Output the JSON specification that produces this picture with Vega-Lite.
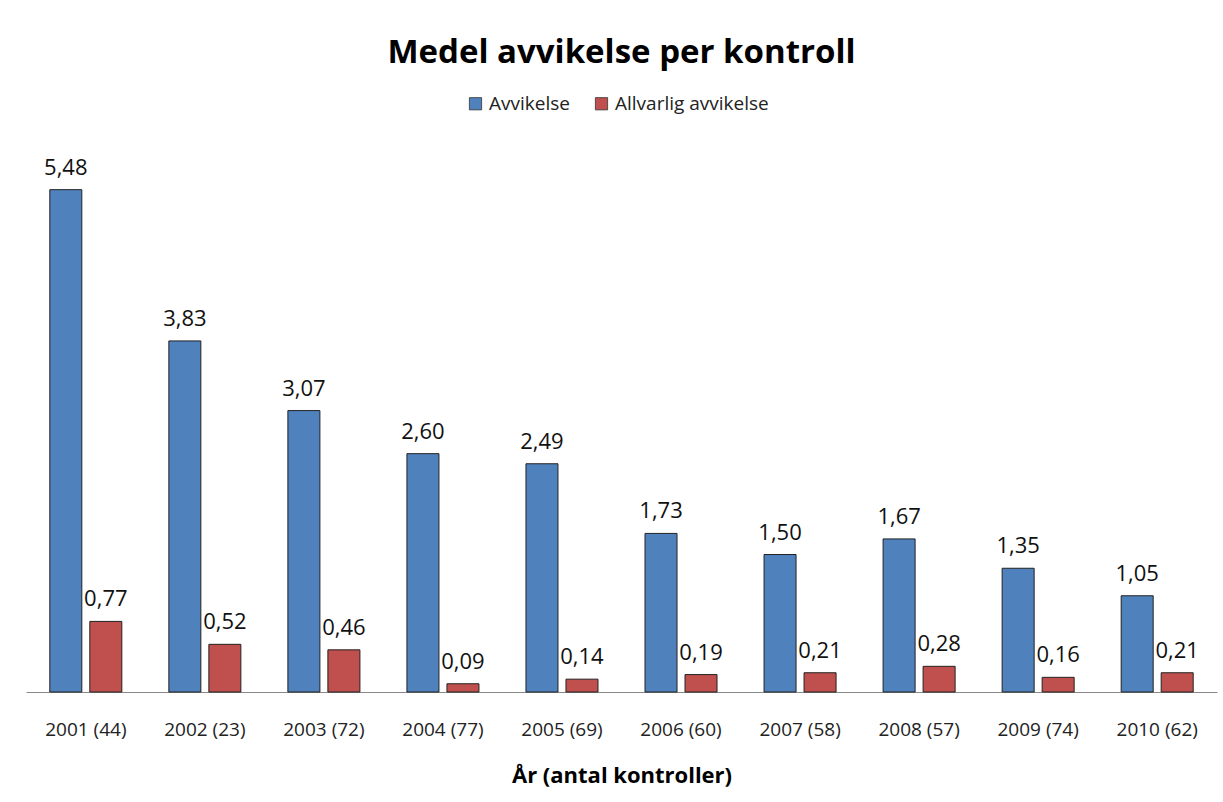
{
  "$schema": "https://vega.github.io/schema/vega-lite/v6.json",
  "width": 1191,
  "height": 550,
  "autosize": "none",
  "padding": {"left": 26, "top": 142, "right": 6, "bottom": 110},
  "background": "white",
  "config": {
    "locale": {"number": {"decimal": ",", "thousands": " ", "grouping": [3], "currency": ["", " kr"]}},
    "view": {"stroke": null},
    "font": "Open Sans"
  },
  "title": {"text": "Medel avvikelse per kontroll", "fontSize": 33, "fontWeight": "bold", "color": "#000", "anchor": "middle", "offset": 24, "font": "Open Sans"},
  "data": {"values": [
    {"year": "2001 (44)", "serie": "Avvikelse", "value": 5.48},
    {"year": "2001 (44)", "serie": "Allvarlig avvikelse", "value": 0.77},
    {"year": "2002 (23)", "serie": "Avvikelse", "value": 3.83},
    {"year": "2002 (23)", "serie": "Allvarlig avvikelse", "value": 0.52},
    {"year": "2003 (72)", "serie": "Avvikelse", "value": 3.07},
    {"year": "2003 (72)", "serie": "Allvarlig avvikelse", "value": 0.46},
    {"year": "2004 (77)", "serie": "Avvikelse", "value": 2.60},
    {"year": "2004 (77)", "serie": "Allvarlig avvikelse", "value": 0.09},
    {"year": "2005 (69)", "serie": "Avvikelse", "value": 2.49},
    {"year": "2005 (69)", "serie": "Allvarlig avvikelse", "value": 0.14},
    {"year": "2006 (60)", "serie": "Avvikelse", "value": 1.73},
    {"year": "2006 (60)", "serie": "Allvarlig avvikelse", "value": 0.19},
    {"year": "2007 (58)", "serie": "Avvikelse", "value": 1.50},
    {"year": "2007 (58)", "serie": "Allvarlig avvikelse", "value": 0.21},
    {"year": "2008 (57)", "serie": "Avvikelse", "value": 1.67},
    {"year": "2008 (57)", "serie": "Allvarlig avvikelse", "value": 0.28},
    {"year": "2009 (74)", "serie": "Avvikelse", "value": 1.35},
    {"year": "2009 (74)", "serie": "Allvarlig avvikelse", "value": 0.16},
    {"year": "2010 (62)", "serie": "Avvikelse", "value": 1.05},
    {"year": "2010 (62)", "serie": "Allvarlig avvikelse", "value": 0.21}
  ]},
  "encoding": {
    "x": {
      "field": "year", "type": "nominal", "sort": null,
      "title": "År (antal kontroller)",
      "scale": {"paddingInner": 0.395, "paddingOuter": 0.2},
      "axis": {
        "labelAngle": 0, "labelFontSize": 19, "labelColor": "#222", "labelPadding": 28,
        "ticks": false, "domainColor": "#888", "domainWidth": 1.2,
        "titleFontSize": 22, "titleFontWeight": "bold", "titleColor": "#000", "titlePadding": 26
      }
    },
    "xOffset": {"field": "serie", "type": "nominal", "sort": ["Avvikelse", "Allvarlig avvikelse"], "scale": {"paddingInner": 0.2, "paddingOuter": 0}},
    "y": {"field": "value", "type": "quantitative", "scale": {"domain": [0, 6]}, "axis": null}
  },
  "layer": [
    {
      "mark": {"type": "bar", "stroke": "#222", "strokeWidth": 1},
      "encoding": {
        "color": {
          "field": "serie", "type": "nominal", "sort": ["Avvikelse", "Allvarlig avvikelse"],
          "scale": {"domain": ["Avvikelse", "Allvarlig avvikelse"], "range": ["#4F81BD", "#C0504D"]},
          "legend": {
            "title": null, "orient": "none", "legendX": 440, "legendY": -48, "direction": "horizontal",
            "symbolType": "square", "symbolSize": 150, "symbolStrokeColor": "#333", "symbolStrokeWidth": 0.8,
            "labelFontSize": 19, "labelColor": "#222", "columnPadding": 22, "labelOffset": 4
          }
        }
      }
    },
    {
      "mark": {"type": "text", "baseline": "alphabetic", "dy": -15, "fontSize": 22, "color": "#111"},
      "encoding": {"text": {"field": "value", "type": "quantitative", "format": ".2f"}}
    }
  ]
}
